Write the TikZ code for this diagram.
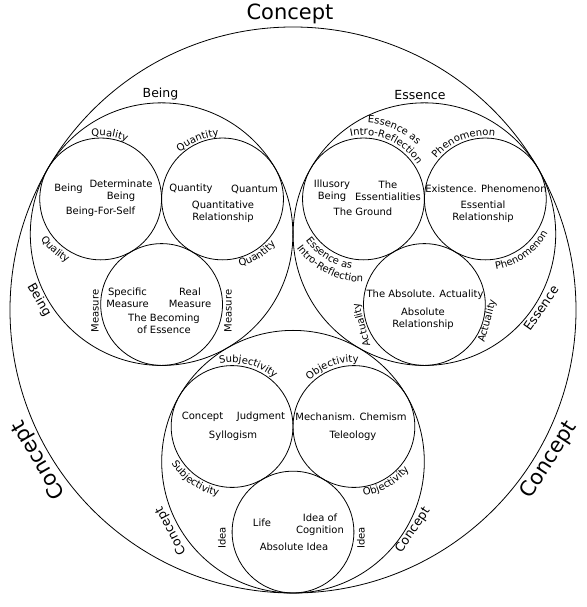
\documentclass[tikz,border=0pt]{standalone}
\usepackage{fontspec}
\setmainfont{DejaVu Sans}
\usepackage{tikz}
\usetikzlibrary{decorations.text}

\begin{document}
\begin{tikzpicture}[x=1pt, y=1pt,
        ring/.style={draw=black, line width=0.8pt},
        big/.style={font=\fontsize{21}{24}\selectfont, inner sep=0pt},
        mid/.style={font=\fontsize{12.5}{14}\selectfont, inner sep=0pt},
        small/.style={font=\fontsize{10}{12}\selectfont, align=center, inner sep=0pt},
        arctext/.style={decorate, decoration={text along path, text align=center,
            text={|\fontsize{10}{12}\selectfont|#1}}}]
        \useasboundingbox (0,0) rectangle (586,607);
        % Centros
        \coordinate (O) at (293,297);
        \coordinate (B) at (161.6,372.85);
        \coordinate (E) at (424.4,372.85);
        \coordinate (C) at (293,145.3);
        \coordinate (B1) at (100.66,408.04);
        \coordinate (B2) at (222.54,408.04);
        \coordinate (B3) at (161.6,302.48);
        \coordinate (E1) at (363.46,408.04);
        \coordinate (E2) at (485.34,408.04);
        \coordinate (E3) at (424.4,302.48);
        \coordinate (C1) at (232.06,180.49);
        \coordinate (C2) at (353.94,180.49);
        \coordinate (C3) at (293,74.93);
        % Circulos
        \draw[ring] (O) circle[radius=283];
        \foreach \c in {B,E,C} \draw[ring] (\c) circle[radius=131.3];
        \foreach \c in {B1,B2,B3,E1,E2,E3,C1,C2,C3} \draw[ring] (\c) circle[radius=60.9];
        % Concepto (exterior)
        \node[big] (ktop) at (290,593) {Concept};
        \node[big, rotate=120] (kleft) at (39,147) {Concept};
        \node[big, rotate=57] (kright) at (549,147) {Concept};
        % Ser
        \node[mid] (beingtop) at (160.5,513) {Being};
        \node[mid, rotate=-60] (beingleft) at (39,307) {Being};
        \path[arctext=Quality] ([shift={(127:63)}]B1) arc[start angle=127, end angle=37, radius=63];
        \path[arctext=Quantity] ([shift={(158:63)}]B2) arc[start angle=158, end angle=68, radius=63];
        \path[arctext=Quality] ([shift={(183:72)}]B1) arc[start angle=183, end angle=273, radius=72];
        \path[arctext=Quantity] ([shift={(-103:70)}]B2) arc[start angle=-103, end angle=-13, radius=70];
        \node[small, rotate=90] (meas1) at (95,296) {Measure};
        \node[small, rotate=90] (meas2) at (228,296) {Measure};
        \node[small] (being) at (68.5,418) {Being};
        \node[small] (determinate) at (121,416.5) {Determinate\\Being};
        \node[small] (forself) at (100.5,395) {Being-For-Self};
        \node[small] (quantity) at (191,418) {Quantity};
        \node[small] (quantum) at (254.5,418) {Quantum};
        \node[small] (quantrel) at (223,395.5) {Quantitative\\Relationship};
        \node[small] (specific) at (127.5,309.5) {Specific\\Measure};
        \node[small] (real) at (190,309.5) {Real\\Measure};
        \node[small] (becoming) at (164,283) {The Becoming\\of Essence};
        % Esencia
        \node[mid] (essencetop) at (420,512) {Essence};
        \node[mid, rotate=55] (essenceright) at (541,299) {Essence};
        \path[arctext={Essence as}] ([shift={(111:76)}]E1) arc[start angle=111, end angle=21, radius=76];
        \path[arctext={Intro-Reflection}] ([shift={(112:64)}]E1) arc[start angle=112, end angle=22, radius=64];
        \path[arctext=Phenomenon] ([shift={(156:63.5)}]E2) arc[start angle=156, end angle=66, radius=63.5];
        \path[arctext={Essence as}] ([shift={(193:71)}]E1) arc[start angle=193, end angle=283, radius=71];
        \path[arctext={Intro-Reflection}] ([shift={(198:83)}]E1) arc[start angle=198, end angle=288, radius=83];
        \path[arctext=Phenomenon] ([shift={(-100:71)}]E2) arc[start angle=-100, end angle=-10, radius=71];
        \node[small, rotate=105] (act1) at (362,282) {Actuality};
        \node[small, rotate=75] (act2) at (487.5,286) {Actuality};
        \node[small] (illusory) at (332,416.5) {Illusory\\Being};
        \node[small] (essentialities) at (388,416.5) {The\\Essentialities};
        \node[small] (ground) at (363,395) {The Ground};
        \node[small] (existence) at (486,418) {Existence. Phenomenon};
        \node[small] (essrel) at (483,395.5) {Essential\\Relationship};
        \node[small] (absolute) at (425,312) {The Absolute. Actuality};
        \node[small] (absrel) at (423,288) {Absolute\\Relationship};
        % Concepto (interior)
        \node[mid, rotate=118] (conceptleft) at (171,76) {Concept};
        \node[mid, rotate=56] (conceptright) at (413,77) {Concept};
        \path[arctext=Subjectivity] ([shift={(120:64)}]C1) arc[start angle=120, end angle=30, radius=64];
        \path[arctext=Objectivity] ([shift={(155:64)}]C2) arc[start angle=155, end angle=65, radius=64];
        \path[arctext=Subjectivity] ([shift={(190:71)}]C1) arc[start angle=190, end angle=280, radius=71];
        \path[arctext=Objectivity] ([shift={(-105:70)}]C2) arc[start angle=-105, end angle=-15, radius=70];
        \node[small, rotate=90] (idea1) at (222,69) {Idea};
        \node[small, rotate=90] (idea2) at (361,69) {Idea};
        \node[small] (concept) at (202.5,190) {Concept};
        \node[small] (judgment) at (261,190) {Judgment};
        \node[small] (syllogism) at (233,171) {Syllogism};
        \node[small] (mechanism) at (351,190) {Mechanism. Chemism};
        \node[small] (teleology) at (353,171) {Teleology};
        \node[small] (life) at (262,84) {Life};
        \node[small] (cognition) at (320,82.5) {Idea of\\Cognition};
        \node[small] (absidea) at (294,60) {Absolute Idea};
    \end{tikzpicture}
\end{document}
